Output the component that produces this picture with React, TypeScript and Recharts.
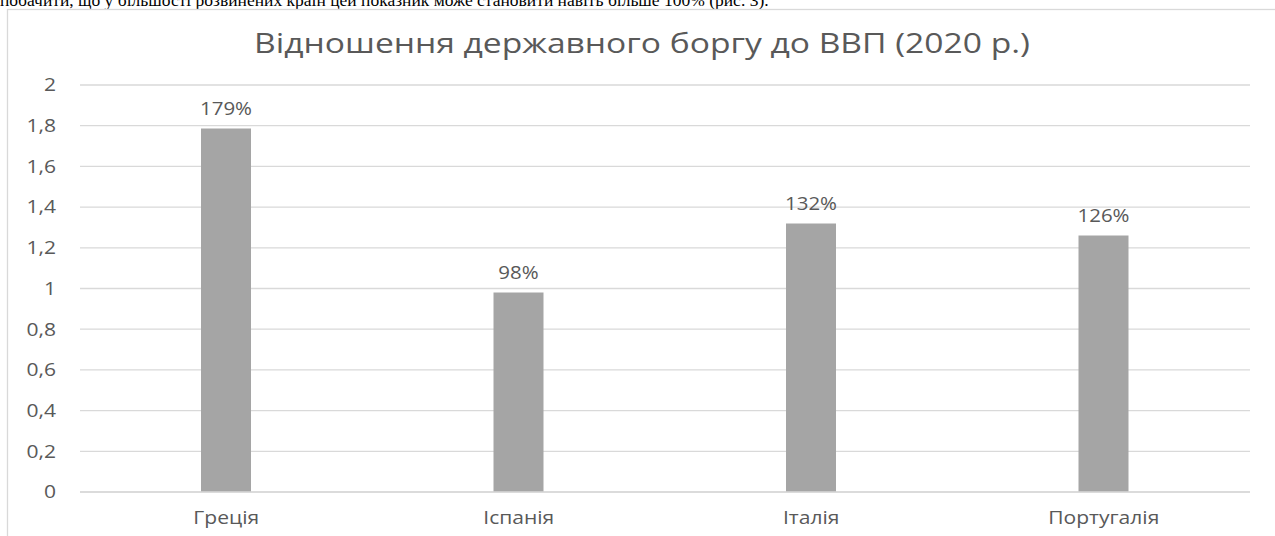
import React from 'react';
import { BarChart, Bar, XAxis, YAxis, CartesianGrid, LabelList } from 'recharts';

const countries = ['Греція', 'Іспанія', 'Італія', 'Португалія'];
const debtRatio = [1.786, 0.98, 1.32, 1.26];
const yTicks = [0, 0.2, 0.4, 0.6, 0.8, 1, 1.2, 1.4, 1.6, 1.8, 2];
const titleText = 'Відношення державного боргу до ВВП (2020 р.)';
const topLine = 'побачити, що у більшості розвинених країн цей показник може становити навіть більше 100% (рис. 3).';

const data = countries.map((c, i) => ({ country: c, value: debtRatio[i] }));

const SX = 1.17;
const FONT = '"Open Sans", sans-serif';
const GREY = '#595959';
const GRID = '#d9d9d9';

const YTick = (props: any) => {
  const { x, y, payload } = props;
  return (
    <text transform={`translate(${x},${y}) scale(${SX},1)`} textAnchor="end" dy="0.35em" fill={GREY} fontSize={18} fontFamily={FONT}>
      {String(payload.value).replace('.', ',')}
    </text>
  );
};

const XTick = (props: any) => {
  const { x, y, payload } = props;
  return (
    <text transform={`translate(${x},${y}) scale(${SX},1)`} textAnchor="middle" dy="0.35em" fill={GREY} fontSize={18} fontFamily={FONT}>
      {payload.value}
    </text>
  );
};

const ValueLabel = (props: any) => {
  const { x, y, width, value } = props;
  return (
    <text transform={`translate(${x + width / 2},${y - 20}) scale(${SX},1)`} textAnchor="middle" dy="0.35em" fill={GREY} fontSize={17.5} fontFamily={FONT}>
      {Math.round(value * 100) + '%'}
    </text>
  );
};

export default function App() {
  return (
    <div style={{ position: 'absolute', left: 0, top: 0, width: 1275, height: 536, overflow: 'hidden', background: '#fff' }}>
      <BarChart width={1275} height={536} data={data} margin={{ top: 85, right: 25, bottom: 0, left: 0 }}>
        <CartesianGrid vertical={false} stroke={GRID} strokeWidth={1.3} />
        <XAxis dataKey="country" height={44} axisLine={{ stroke: GRID, strokeWidth: 1.3 }} tickLine={false} tickSize={0} tick={<XTick />} tickMargin={26} interval={0} />
        <YAxis width={80} domain={[0, 2]} ticks={yTicks} axisLine={false} tickLine={false} tickSize={0} tickMargin={24} tick={<YTick />} interval={0} />
        <Bar dataKey="value" fill="#a5a5a5" barSize={50} isAnimationActive={false}>
          <LabelList dataKey="value" content={<ValueLabel />} />
        </Bar>
      </BarChart>
      <svg width={1275} height={536} style={{ position: 'absolute', left: 0, top: 0, pointerEvents: 'none' }}>
        <text x={0} y={5.5} fontFamily='"Liberation Serif", serif' fontSize={17.5} fill="#000">{topLine}</text>
        <rect x={7.5} y={9.5} width={1300} height={600} fill="none" stroke={GRID} strokeWidth={1.3} />
        <text transform={`translate(642,53) scale(1.2,1)`} textAnchor="middle" fill={GREY} fontSize={28} fontFamily={FONT}>{titleText}</text>
      </svg>
    </div>
  );
}
